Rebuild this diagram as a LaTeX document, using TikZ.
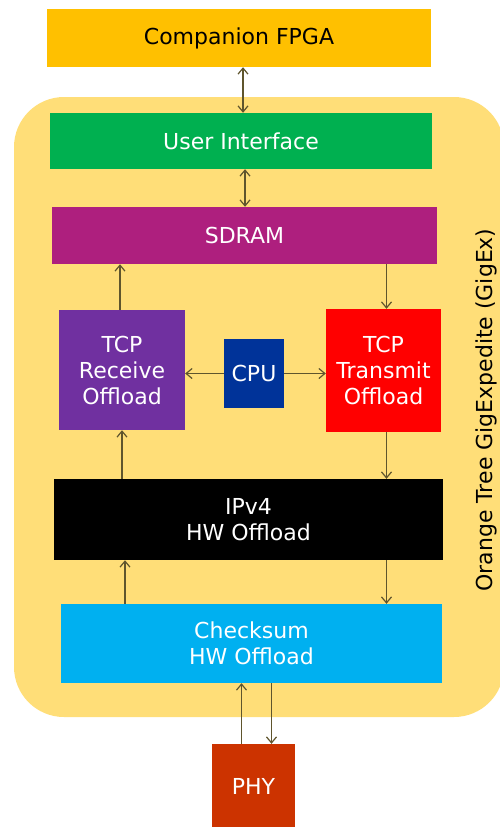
\documentclass[tikz,border=0pt]{standalone}
\usepackage{fontspec}
\setmainfont{DejaVu Sans}
\usetikzlibrary{arrows.meta}
\definecolor{gigex}{RGB}{255,222,120}
\definecolor{fpgac}{RGB}{255,192,0}
\definecolor{uic}{RGB}{0,176,80}
\definecolor{sdramc}{RGB}{174,31,126}
\definecolor{rxc}{RGB}{112,48,160}
\definecolor{cpuc}{RGB}{0,51,153}
\definecolor{csumc}{RGB}{0,176,240}
\definecolor{phyc}{RGB}{204,51,0}
\definecolor{linkc}{RGB}{95,85,45}

\begin{document}
\begin{tikzpicture}[x=1pt,y=-1pt,
  block/.style={minimum width=#1, inner sep=0pt, align=center, text=white,
    font=\fontsize{22}{26}\selectfont},
  link/.style={draw=linkc, line width=1.2pt, >={Straight Barb[length=6pt,width=10pt]}}]
\useasboundingbox (0,0) rectangle (499,827);
\fill[gigex, rounded corners=50pt] (14,97) rectangle (504,717);
\node[block=384pt, minimum height=58pt, fill=fpgac, text=black] (fpga) at (239,38) {Companion FPGA};
\node[block=382pt, minimum height=56pt, fill=uic] (ui) at (241,141) {User Interface};
\node[block=385pt, minimum height=57pt, fill=sdramc] (sdram) at (244.5,235.5) {SDRAM};
\node[block=126pt, minimum height=120pt, fill=rxc] (rx) at (122,370) {TCP\\Receive\\Offload};
\node[block=60pt, minimum height=69pt, fill=cpuc] (cpu) at (254,373.5) {CPU};
\node[block=115pt, minimum height=123pt, fill=red] (tx) at (383.5,370.5) {TCP\\Transmit\\Offload};
\node[block=389pt, minimum height=81pt, fill=black] (ipv4) at (248.5,519.5) {IPv4\\HW Offload};
\node[block=381pt, minimum height=79pt, fill=csumc] (csum) at (251.5,643.5) {Checksum\\HW Offload};
\node[block=83pt, minimum height=84pt, fill=phyc] (phy) at (253.5,786) {PHY};
\node[rotate=90, font=\fontsize{22}{26}\selectfont] (name) at (486,410) {Orange Tree GigExpedite (GigEx)};
\draw[link,<->] ([xshift=4pt]fpga.south) -- ([xshift=4pt]fpga.south |- ui.north);
\draw[link,<->] ([xshift=4pt]ui.south) -- ([xshift=4pt]ui.south |- sdram.north);
\draw[link,->] ([xshift=-2pt]rx.north) -- ([xshift=-2pt]rx.north |- sdram.south);
\draw[link,->] ([xshift=3pt]tx.north |- sdram.south) -- ([xshift=3pt]tx.north);
\draw[link,->] (cpu.west) -- (cpu.west -| rx.east);
\draw[link,->] (cpu.east) -- (cpu.east -| tx.west);
\draw[link,->] (rx.south |- ipv4.north) -- (rx.south);
\draw[link,->] ([xshift=3pt]tx.south) -- ([xshift=3pt]tx.south |- ipv4.north);
\draw[link,->] ([xshift=3pt]rx.south |- csum.north) -- ([xshift=3pt]rx.south |- ipv4.south);
\draw[link,->] ([xshift=3pt]tx.south |- ipv4.south) -- ([xshift=3pt]tx.south |- csum.north);
\draw[link,->] ([xshift=-12pt]phy.north) -- ([xshift=-12pt]phy.north |- csum.south);
\draw[link,->] ([xshift=18pt]phy.north |- csum.south) -- ([xshift=18pt]phy.north);
\end{tikzpicture}
\end{document}
